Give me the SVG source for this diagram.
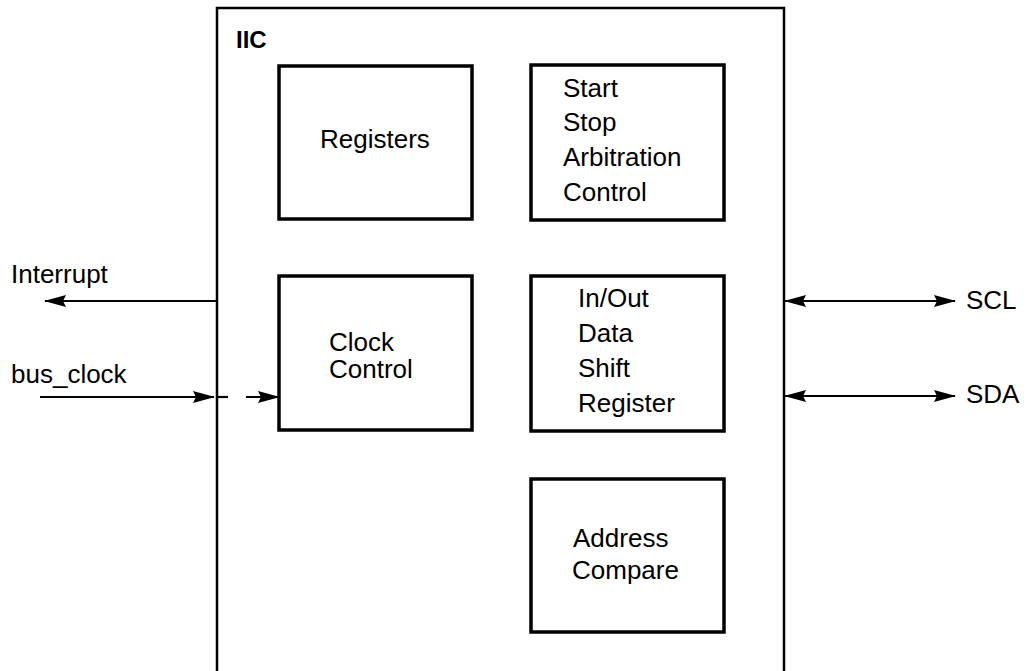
<svg xmlns="http://www.w3.org/2000/svg" width="1028" height="671" viewBox="0 0 1028 671">
<style>
  .box { fill: none; stroke: #000; stroke-width: 3.5; }
  .outer { fill: none; stroke: #000; stroke-width: 2.5; }
  .ln { fill: none; stroke: #000; stroke-width: 2.2; }
  .t { font-family: "Liberation Sans", Arial, sans-serif; font-size: 26px; fill: #000; }
  .b { font-family: "Liberation Sans", Arial, sans-serif; font-size: 24px; font-weight: bold; fill: #000; }
</style>
<defs>
  <marker id="ah" markerWidth="22" markerHeight="12" refX="21" refY="6" orient="auto-start-reverse" markerUnits="userSpaceOnUse">
    <path d="M0,0 L22,6 L0,12 L3,6 Z" fill="#000"/>
  </marker>
</defs>
<rect width="1028" height="671" fill="#fff"/>
<g id="iic">
  <path class="outer" d="M217,671 V8 H784 V671"/>
  <text class="b" x="236" y="48">IIC</text>
</g>
<g id="registers">
  <rect class="box" x="279" y="66" width="193" height="153"/>
  <text class="t" x="320" y="148">Registers</text>
</g>
<g id="start-stop">
  <rect class="box" x="531" y="65" width="193" height="155"/>
  <text class="t" x="563" y="97">Start</text>
  <text class="t" x="563" y="131">Stop</text>
  <text class="t" x="563" y="166">Arbitration</text>
  <text class="t" x="563" y="201">Control</text>
</g>
<g id="clock-control">
  <rect class="box" x="279" y="276" width="193" height="154"/>
  <text class="t" x="329" y="351">Clock</text>
  <text class="t" x="329" y="378">Control</text>
</g>
<g id="shift-register">
  <rect class="box" x="531" y="276" width="193" height="155"/>
  <text class="t" x="578" y="307">In/Out</text>
  <text class="t" x="578" y="342">Data</text>
  <text class="t" x="578" y="377">Shift</text>
  <text class="t" x="578" y="412">Register</text>
</g>
<g id="address-compare">
  <rect class="box" x="531" y="479" width="193" height="153"/>
  <text class="t" x="573" y="547">Address</text>
  <text class="t" x="572" y="579">Compare</text>
</g>
<g id="labels">
  <text class="t" x="11" y="283">Interrupt</text>
  <text class="t" x="11" y="383">bus_clock</text>
  <text class="t" x="966" y="309">SCL</text>
  <text class="t" x="966" y="403">SDA</text>
</g>
<g id="connectors">
  <line class="ln" x1="217" y1="301" x2="45" y2="301" marker-end="url(#ah)"/>
  <line class="ln" x1="40" y1="397" x2="214" y2="397" marker-end="url(#ah)"/>
  <line class="ln" x1="218" y1="397" x2="228" y2="397"/>
  <line class="ln" x1="246" y1="397" x2="279" y2="397" marker-end="url(#ah)"/>
  <line class="ln" x1="785" y1="301" x2="955" y2="301" marker-start="url(#ah)" marker-end="url(#ah)"/>
  <line class="ln" x1="785" y1="396" x2="955" y2="396" marker-start="url(#ah)" marker-end="url(#ah)"/>
</g>
</svg>
